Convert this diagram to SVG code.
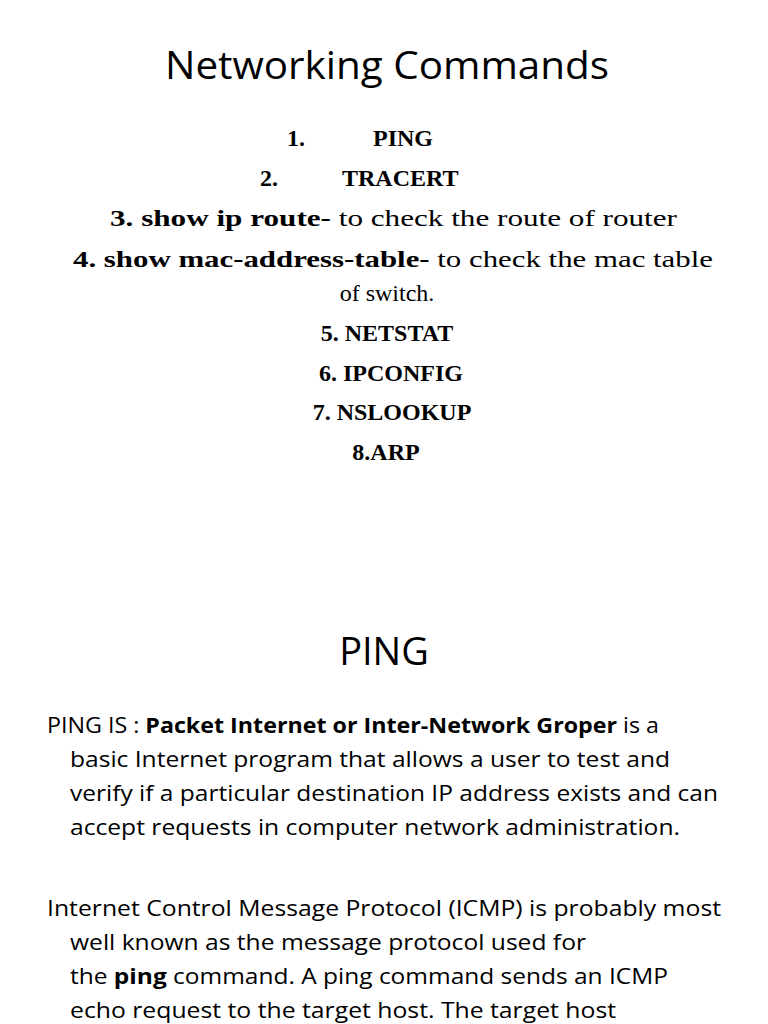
<svg xmlns="http://www.w3.org/2000/svg" width="768" height="1024" viewBox="0 0 768 1024">
<style>
.t{font-family:"Open Sans","Noto Sans",sans-serif;fill:#000}
.s{font-family:"Liberation Serif",serif;fill:#000;font-size:24px}
.b{font-weight:bold}
.p{font-family:"Open Sans","Noto Sans",sans-serif;fill:#000;font-size:22px}
</style>
<rect width="768" height="1024" fill="#fff"/>
<text class="t" x="387" y="79" font-size="38" text-anchor="middle" textLength="444" lengthAdjust="spacingAndGlyphs">Networking Commands</text>
<text class="s b" x="287" y="146">1.</text><text class="s b" x="373" y="146">PING</text>
<text class="s b" x="260" y="186">2.</text><text class="s b" x="342" y="186">TRACERT</text>
<text class="s" x="110" y="226" textLength="567" lengthAdjust="spacingAndGlyphs"><tspan class="b">3. show ip route-</tspan> to check the route of router</text>
<text class="s" x="73" y="267" textLength="640" lengthAdjust="spacingAndGlyphs"><tspan class="b">4. show mac-address-table-</tspan> to check the mac table</text>
<text class="s" x="387" y="301" text-anchor="middle">of switch.</text>
<text class="s b" x="387" y="341" text-anchor="middle">5. NETSTAT</text>
<text class="s b" x="391" y="381" text-anchor="middle">6. IPCONFIG</text>
<text class="s b" x="392" y="420" text-anchor="middle">7. NSLOOKUP</text>
<text class="s b" x="386" y="460" text-anchor="middle">8.ARP</text>
<text class="t" x="384" y="665" font-size="38" text-anchor="middle">PING</text>
<text class="p" x="47" y="733" textLength="612" lengthAdjust="spacingAndGlyphs">PING IS :  <tspan class="b">Packet Internet or Inter-Network Groper</tspan> is a</text>
<text class="p" x="70" y="767" textLength="600" lengthAdjust="spacingAndGlyphs">basic Internet program that allows a user to test and</text>
<text class="p" x="70" y="801" textLength="648" lengthAdjust="spacingAndGlyphs">verify if a particular destination IP address exists and can</text>
<text class="p" x="70" y="835" textLength="610" lengthAdjust="spacingAndGlyphs">accept requests in computer network administration.</text>
<text class="p" x="47" y="916" textLength="674" lengthAdjust="spacingAndGlyphs">Internet Control Message Protocol (ICMP) is probably most</text>
<text class="p" x="70" y="950" textLength="516" lengthAdjust="spacingAndGlyphs">well known as the message protocol used for</text>
<text class="p" x="70" y="984" textLength="598" lengthAdjust="spacingAndGlyphs">the <tspan class="b">ping</tspan> command. A ping command sends an ICMP</text>
<text class="p" x="70" y="1018" textLength="546" lengthAdjust="spacingAndGlyphs">echo request to the target host. The target host</text>
</svg>
